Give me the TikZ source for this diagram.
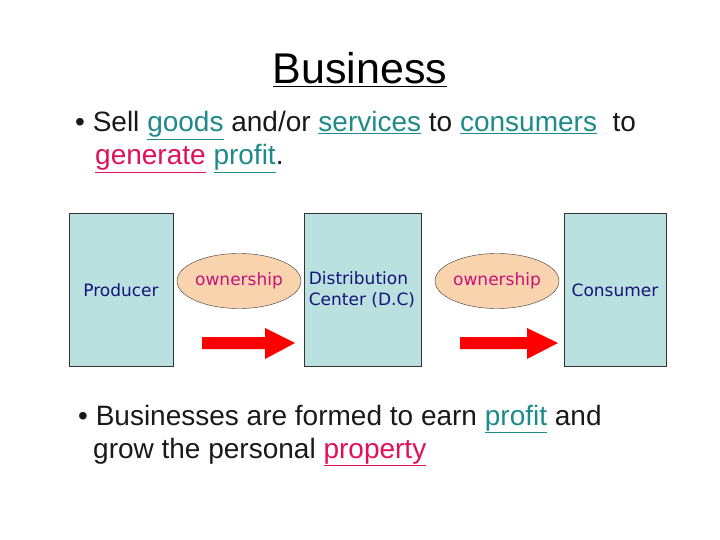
\documentclass[tikz,border=0pt]{standalone}
\usepackage{fontspec}
\setmainfont{Liberation Sans}
\newfontfamily\boxfont{DejaVu Sans}
\usetikzlibrary{shapes.geometric}
\definecolor{tealw}{HTML}{1E8A8A}
\definecolor{crim}{HTML}{E0105A}
\definecolor{boxfill}{HTML}{BAE0E0}
\definecolor{peach}{HTML}{F9D3AE}
\definecolor{navyt}{HTML}{14147A}
\definecolor{mag}{HTML}{C8127A}
\newcommand{\tw}[1]{\textcolor{tealw}{\underline{#1}}}
\newcommand{\cw}[1]{\textcolor{crim}{\underline{#1}}}
\tikzset{
  bigbox/.style={draw=black!80, fill=boxfill, line width=0.8pt, inner sep=0pt},
  boxtext/.style={font=\boxfont\fontsize{17}{21}\selectfont, text=navyt, align=left},
  own/.style={ellipse, draw=black!80, fill=peach, minimum width=109pt, minimum height=55pt, inner sep=0pt, font=\boxfont\fontsize{17}{21}\selectfont, text=mag},
  body/.style={anchor=base west, inner sep=0pt, font=\fontsize{28}{32}\selectfont, text=black!90},
  redarrow/.style={fill=red, draw=none}
}
\begin{document}
\begin{tikzpicture}[x=1pt,y=-1pt]
\useasboundingbox (0,0) rectangle (720,540);
\node[anchor=base, inner sep=0pt, font=\fontsize{43}{48}\selectfont] (title) at (360,84) {\underline{Business}};
\node[body] (l1) at (75,132) {\textbullet\ Sell \tw{goods} and/or \tw{services} to \tw{consumers}\ \ to};
\node[body] (l2) at (95,165) {\cw{generate} \tw{profit}.};
\draw[bigbox] (69,213) rectangle (173,366);
\node[boxtext] (prod) at (121,290) {Producer};
\draw[bigbox] (304,213) rectangle (421,366);
\node[boxtext] (dc) at (362,290) {Distribution\\Center (D.C)};
\draw[bigbox] (564,213) rectangle (666,366);
\node[boxtext] (cons) at (615,290) {Consumer};
\node[own] (o1) at (239,281) {ownership};
\node[own] (o2) at (497,281) {ownership};
\fill[redarrow] (202,337) -- (265,337) -- (265,328) -- (295,343) -- (265,359) -- (265,349) -- (202,349) -- cycle;
\fill[redarrow] (460,337) -- (527,337) -- (527,328) -- (558,343) -- (527,359) -- (527,349) -- (460,349) -- cycle;
\node[body] (b1) at (78,425) {\textbullet\ Businesses are formed to earn \tw{profit} and};
\node[body] (b2) at (93,458) {grow the personal \cw{property}};
\end{tikzpicture}
\end{document}
